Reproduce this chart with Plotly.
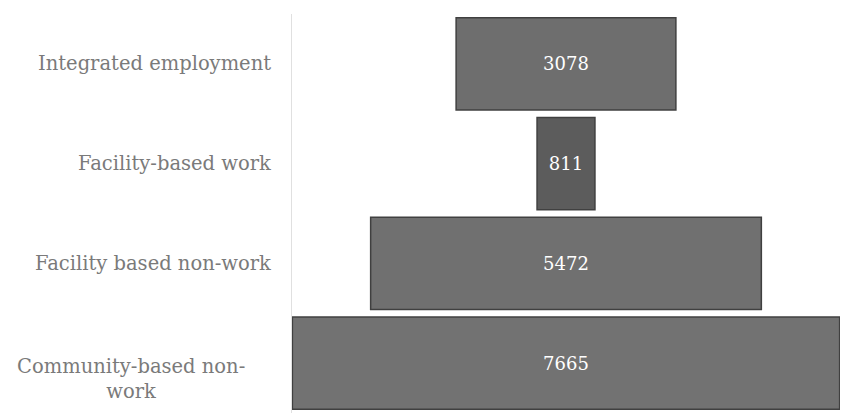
import plotly.graph_objects as go

categories = ["Integrated employment", "Facility-based work", "Facility based non-work", "Community-based non-work"]
label_text = ["Integrated employment", "Facility-based work", "Facility based non-work", "Community-based non-<br>work"]
values = [3078, 811, 5472, 7665]
bar_colors = ["#6e6e6e", "#5c5c5c", "#707070", "#727272"]

fig = go.Figure(go.Funnel(
    y=categories,
    x=values,
    textinfo="value",
    textposition="inside",
    insidetextfont=dict(family="DejaVu Serif", size=18, color="white"),
    marker=dict(color=bar_colors, line=dict(color="#404040", width=1.5)),
    connector=dict(visible=False),
    hoverinfo="skip",
))

fig.update_layout(
    width=843, height=413,
    margin=dict(l=292, r=3, t=14, b=0),
    paper_bgcolor="white", plot_bgcolor="white",
    funnelgap=0.073,
    showlegend=False,
)
fig.update_xaxes(visible=False, range=[-7665 / 2 - 5, 7665 / 2 + 5])
fig.update_yaxes(showline=True, linecolor="#e0e0e0", linewidth=1,
                 showticklabels=False, showgrid=False, ticks="")

# category labels placed via the y-axis category scale
for i, (cat, txt) in enumerate(zip(categories, label_text)):
    multi = "<br>" in txt
    fig.add_annotation(
        x=0, xref="paper", y=cat, yref="y",
        text=txt, showarrow=False,
        xanchor="center" if multi else "right",
        xshift=-161 if multi else -19,
        yshift=-16 if multi else 0,
        align="center",
        font=dict(family="DejaVu Serif", size=19.5, color="#7a7a7a"),
    )

fig.write_html(
    "out.html",
    config={"displayModeBar": False},
    post_script="document.body.style.margin='0';document.body.style.overflow='hidden';",
)
